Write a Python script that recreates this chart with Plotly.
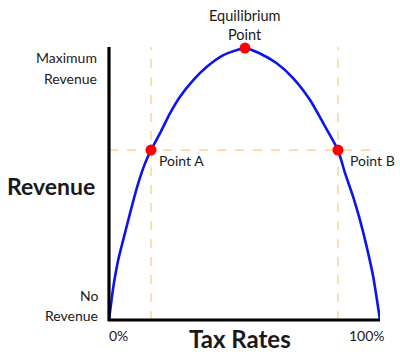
import plotly.graph_objects as go

# Laffer curve (tax rate %, revenue % of maximum)
tax_rate = [0, 1.6, 3.4, 5.9, 8.4, 10.8, 13.3, 15.5, 18.8, 22.5, 26.2, 31.1, 36.1, 42.2, 50.2,
            55.7, 61.9, 68.0, 74.2, 79.1, 84.5, 87.1, 90.1, 92.6, 95.1, 97.5, 100]
revenue = [0, 12.2, 22.1, 32.0, 41.7, 50.3, 57.6, 62.5, 68.6, 76.0, 82.1, 88.2, 93.1, 97.4, 100,
           98.0, 94.4, 88.9, 80.9, 72.3, 62.5, 54.0, 45.3, 36.8, 26.9, 15.9, 0]

point_x = [15.5, 50.2, 84.5]
point_y = [62.5, 100, 62.5]
point_names = ["Point A", "Equilibrium Point", "Point B"]

FONT = "Lato, 'Open Sans', sans-serif"
DASH = "#f7c98a"

fig = go.Figure()

# dashed guide lines
for px in [point_x[0], point_x[2]]:
    fig.add_trace(go.Scatter(x=[px, px], y=[0, 100.4], mode="lines",
                             line=dict(color=DASH, width=1.2, dash="dash"),
                             hoverinfo="skip", showlegend=False))
fig.add_trace(go.Scatter(x=[0, 100], y=[point_y[0], point_y[0]], mode="lines",
                         line=dict(color=DASH, width=1.2, dash="dash"),
                         hoverinfo="skip", showlegend=False))

fig.add_trace(go.Scatter(x=tax_rate, y=revenue, mode="lines",
                         line=dict(color="#0a14f0", width=2.6, shape="spline", smoothing=0.6),
                         showlegend=False, cliponaxis=False))
fig.add_trace(go.Scatter(x=point_x, y=point_y, mode="markers",
                         marker=dict(color="#ff0000", size=11),
                         text=point_names, showlegend=False, cliponaxis=False))

# axes lines (paper coordinates so they are not clipped)
fig.add_shape(type="line", xref="paper", yref="paper", x0=0, x1=0, y0=-0.004, y1=1.0,
              line=dict(color="black", width=3.2))
fig.add_shape(type="line", xref="paper", yref="paper", x0=-0.004, x1=1.0, y0=0, y1=0,
              line=dict(color="black", width=3.2))

W0, W1 = 109, 380   # plot x pixels
H0, H1 = 47, 320    # plot y pixels (top, bottom)

def ann(px, py, text, size=14, bold=False, xanchor="center"):
    fig.add_annotation(x=(px - W0) / (W1 - W0), y=(H1 - py) / (H1 - H0),
                       xref="paper", yref="paper",
                       text=f"<b>{text}</b>" if bold else text,
                       showarrow=False, xanchor=xanchor, yanchor="middle",
                       font=dict(family=FONT, size=size, color="#1a1a1a"))

ann(99, 58, "Maximum", xanchor="right")
ann(99, 78, "Revenue", xanchor="right")
ann(100, 295, "No", xanchor="right")
ann(100, 315, "Revenue", xanchor="right")
ann(5, 186, "Revenue", size=23, bold=True, xanchor="left")
ann(107, 335, "0%", xanchor="left")
ann(367, 335, "100%")
ann(240, 338, "Tax Rates", size=24, bold=True)
ann(245, 16, "Equilibrium", size=14.5)
ann(245, 35, "Point", size=14.5)
ann(157, 160, "Point A", xanchor="left")
ann(348, 160, "Point B", xanchor="left")

fig.update_layout(
    width=400, height=356,
    margin=dict(l=W0, r=400 - W1, t=H0, b=356 - H1),
    paper_bgcolor="white", plot_bgcolor="white",
    xaxis=dict(range=[0, 100], showgrid=False, zeroline=False, showticklabels=False,
               showline=False, fixedrange=True),
    yaxis=dict(range=[0, 100.4], showgrid=False, zeroline=False, showticklabels=False,
               showline=False, fixedrange=True),
)

fig.write_html("out.html")
